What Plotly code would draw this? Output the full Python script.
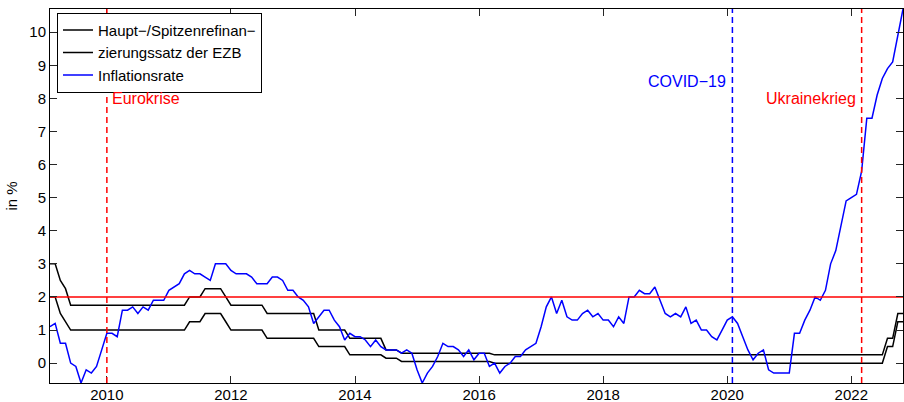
import plotly.graph_objects as go

# ---------------- data ----------------
years = list(range(2009, 2023))
last_month_2022 = 10

# Inflation rate (% yoy), monthly Jan 2009 .. Oct 2022
infl_2009 = [1.1, 1.2, 0.6, 0.6, 0.0, -0.1, -0.6, -0.2, -0.3, -0.1, 0.4, 0.9]
infl_2010 = [0.9, 0.8, 1.6, 1.6, 1.7, 1.5, 1.7, 1.6, 1.9, 1.9, 1.9, 2.2]
infl_2011 = [2.3, 2.4, 2.7, 2.8, 2.7, 2.7, 2.6, 2.5, 3.0, 3.0, 3.0, 2.8]
infl_2012 = [2.7, 2.7, 2.7, 2.6, 2.4, 2.4, 2.4, 2.6, 2.6, 2.5, 2.2, 2.2]
infl_2013 = [2.0, 1.9, 1.7, 1.2, 1.4, 1.6, 1.6, 1.3, 1.1, 0.7, 0.9, 0.8]
infl_2014 = [0.8, 0.7, 0.5, 0.7, 0.5, 0.4, 0.4, 0.4, 0.3, 0.4, 0.3, -0.2]
infl_2015 = [-0.6, -0.3, -0.1, 0.2, 0.6, 0.5, 0.5, 0.4, 0.2, 0.4, 0.1, 0.3]
infl_2016 = [0.3, -0.1, 0.0, -0.3, -0.1, 0.0, 0.2, 0.2, 0.4, 0.5, 0.6, 1.1]
infl_2017 = [1.7, 2.0, 1.5, 1.9, 1.4, 1.3, 1.3, 1.5, 1.6, 1.4, 1.5, 1.3]
infl_2018 = [1.3, 1.1, 1.4, 1.2, 2.0, 2.0, 2.2, 2.1, 2.1, 2.3, 1.9, 1.5]
infl_2019 = [1.4, 1.5, 1.4, 1.7, 1.2, 1.3, 1.0, 1.0, 0.8, 0.7, 1.0, 1.3]
infl_2020 = [1.4, 1.2, 0.8, 0.4, 0.1, 0.3, 0.4, -0.2, -0.3, -0.3, -0.3, -0.3]
infl_2021 = [0.9, 0.9, 1.3, 1.6, 2.0, 1.9, 2.2, 3.0, 3.4, 4.1, 4.9, 5.0]
infl_2022 = [5.1, 5.8, 7.4, 7.4, 8.1, 8.6, 8.9, 9.1, 9.9, 10.7]

# Spitzenrefinanzierungssatz (marginal lending facility), month end
mlf_2009 = [3.0, 3.0, 2.5, 2.25, 1.75, 1.75, 1.75, 1.75, 1.75, 1.75, 1.75, 1.75]
mlf_2010 = [1.75] * 12
mlf_2011 = [1.75, 1.75, 1.75, 2.0, 2.0, 2.0, 2.25, 2.25, 2.25, 2.25, 2.0, 1.75]
mlf_2012 = [1.75, 1.75, 1.75, 1.75, 1.75, 1.75, 1.5, 1.5, 1.5, 1.5, 1.5, 1.5]
mlf_2013 = [1.5, 1.5, 1.5, 1.5, 1.0, 1.0, 1.0, 1.0, 1.0, 1.0, 0.75, 0.75]
mlf_2014 = [0.75, 0.75, 0.75, 0.75, 0.75, 0.4, 0.4, 0.4, 0.3, 0.3, 0.3, 0.3]
mlf_2015 = [0.3] * 12
mlf_2016 = [0.3, 0.3, 0.25, 0.25, 0.25, 0.25, 0.25, 0.25, 0.25, 0.25, 0.25, 0.25]
mlf_2017 = [0.25] * 12
mlf_2018 = [0.25] * 12
mlf_2019 = [0.25] * 12
mlf_2020 = [0.25] * 12
mlf_2021 = [0.25] * 12
mlf_2022 = [0.25, 0.25, 0.25, 0.25, 0.25, 0.25, 0.75, 0.75, 1.5, 1.5]

# Hauptrefinanzierungssatz (main refinancing rate), month end
mro_2009 = [2.0, 2.0, 1.5, 1.25, 1.0, 1.0, 1.0, 1.0, 1.0, 1.0, 1.0, 1.0]
mro_2010 = [1.0] * 12
mro_2011 = [1.0, 1.0, 1.0, 1.25, 1.25, 1.25, 1.5, 1.5, 1.5, 1.5, 1.25, 1.0]
mro_2012 = [1.0, 1.0, 1.0, 1.0, 1.0, 1.0, 0.75, 0.75, 0.75, 0.75, 0.75, 0.75]
mro_2013 = [0.75, 0.75, 0.75, 0.75, 0.5, 0.5, 0.5, 0.5, 0.5, 0.5, 0.25, 0.25]
mro_2014 = [0.25, 0.25, 0.25, 0.25, 0.25, 0.15, 0.15, 0.15, 0.05, 0.05, 0.05, 0.05]
mro_2015 = [0.05] * 12
mro_2016 = [0.05, 0.05, 0.0, 0.0, 0.0, 0.0, 0.0, 0.0, 0.0, 0.0, 0.0, 0.0]
mro_2017 = [0.0] * 12
mro_2018 = [0.0] * 12
mro_2019 = [0.0] * 12
mro_2020 = [0.0] * 12
mro_2021 = [0.0] * 12
mro_2022 = [0.0, 0.0, 0.0, 0.0, 0.0, 0.0, 0.5, 0.5, 1.25, 1.25]

inflation = (infl_2009 + infl_2010 + infl_2011 + infl_2012 + infl_2013 + infl_2014 +
             infl_2015 + infl_2016 + infl_2017 + infl_2018 + infl_2019 + infl_2020 +
             infl_2021 + infl_2022)
mlf = (mlf_2009 + mlf_2010 + mlf_2011 + mlf_2012 + mlf_2013 + mlf_2014 + mlf_2015 +
       mlf_2016 + mlf_2017 + mlf_2018 + mlf_2019 + mlf_2020 + mlf_2021 + mlf_2022)
mro = (mro_2009 + mro_2010 + mro_2011 + mro_2012 + mro_2013 + mro_2014 + mro_2015 +
       mro_2016 + mro_2017 + mro_2018 + mro_2019 + mro_2020 + mro_2021 + mro_2022)

# time axis: year + month/12 (as in the original)
t = []
for y in years:
    nm = last_month_2022 if y == 2022 else 12
    for m in range(1, nm + 1):
        t.append(y + m / 12)

target_rate = 2.0
event_x = [2010.0, 2020 + 1 / 12, 2022 + 2 / 12]
event_colors = ["#FF0000", "#0000FF", "#FF0000"]
event_labels = ["Eurokrise", "COVID\u221219", "Ukrainekrieg"]
event_label_y = [8.0, 8.5, 8.0]
event_anchor = ["left", "right", "right"]
event_shift = [3, -4, -4]

x_ticks = [2010, 2012, 2014, 2016, 2018, 2020, 2022]
y_ticks = list(range(0, 11))

FONT = "Liberation Sans, Arial, Helvetica, sans-serif"

fig = go.Figure()
fig.add_trace(go.Scatter(x=t, y=mlf, mode="lines", name="Haupt\u2212/Spitzenrefinan\u2212",
                         line=dict(color="#000000", width=1.5)))
fig.add_trace(go.Scatter(x=t, y=mro, mode="lines", name="zierungssatz der EZB",
                         line=dict(color="#000000", width=1.5)))
fig.add_trace(go.Scatter(x=t, y=inflation, mode="lines", name="Inflationsrate",
                         line=dict(color="#0000FF", width=1.5)))

# 2 % target line
fig.add_trace(go.Scatter(x=[t[0], t[-1]], y=[target_rate, target_rate], mode="lines",
                         showlegend=False, hoverinfo="skip",
                         line=dict(color="#FF0000", width=1.5)))

for ex, col, lab, ly, anc, sh in zip(event_x, event_colors, event_labels,
                                     event_label_y, event_anchor, event_shift):
    fig.add_shape(type="line", xref="x", yref="paper", x0=ex, x1=ex, y0=0, y1=1,
                  line=dict(color=col, width=1.5, dash="6px,4px"))
    fig.add_annotation(x=ex, y=ly, xref="x", yref="y", text=lab, showarrow=False,
                       xanchor=anc, yanchor="middle", xshift=sh,
                       font=dict(family=FONT, size=16, color=col))

axis_common = dict(showline=True, linecolor="#000000", linewidth=1, mirror="ticks",
                   ticks="inside", ticklen=7, tickwidth=1, tickcolor="#262626",
                   showgrid=False, zeroline=False,
                   tickfont=dict(family=FONT, size=15, color="#000000"))

fig.update_layout(
    width=904, height=402,
    margin=dict(l=50, r=1, t=9, b=19, autoexpand=False),
    paper_bgcolor="white", plot_bgcolor="white",
    font=dict(family=FONT, size=15, color="#000000"),
    xaxis=dict(range=[2009 + 1 / 12, 2022 + 10 / 12], tickvals=x_ticks,
               ticktext=[str(v) for v in x_ticks], automargin=False,
               ticklabelstandoff=-2, **axis_common),
    yaxis=dict(range=[-0.6, 10.7], tickvals=y_ticks, automargin=False,
               title=dict(text="in %", font=dict(family=FONT, size=15), standoff=8),
               **axis_common),
    legend=dict(x=0.0082, y=0.99, xanchor="left", yanchor="top",
                bordercolor="#000000", borderwidth=1, bgcolor="white",
                font=dict(family=FONT, size=15, color="#000000"),
                tracegroupgap=0, itemwidth=30),
    showlegend=True,
)

fig.write_html("out.html", config={"displayModeBar": False},
               post_script="document.body.style.margin='0px';document.body.style.padding='0px';")
